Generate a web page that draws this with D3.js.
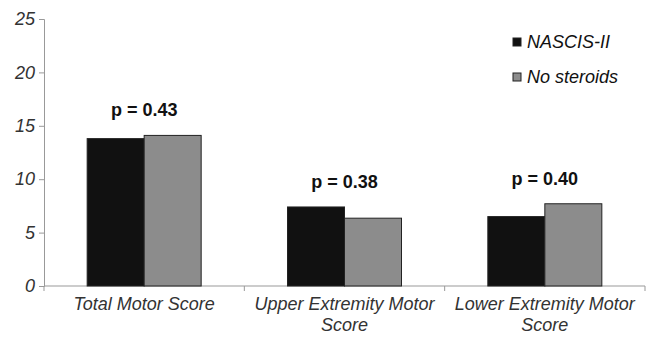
<!DOCTYPE html>
<html><head><meta charset="utf-8">
<script src="https://cdn.jsdelivr.net/npm/d3@7"></script>
<style>body{margin:0;background:#fff}svg{display:block;font-family:"Liberation Sans",Arial,sans-serif}</style>
</head><body><div id="c"></div>
<script>
const categories = [["Total Motor Score"],["Upper Extremity Motor","Score"],["Lower Extremity Motor","Score"]];
const seriesNames = ["NASCIS-II","No steroids"];
const nascis = [13.8, 7.4, 6.5];
const noSteroids = [14.1, 6.35, 7.7];
const pLabels = ["p = 0.43","p = 0.38","p = 0.40"];
const yTicks = [0,5,10,15,20,25];

const W=648,H=337;
const svg=d3.select("#c").append("svg").attr("width",W).attr("height",H);
const x=d3.scaleBand().domain(d3.range(categories.length)).range([44,645]).paddingInner(0).paddingOuter(0);
const y=d3.scaleLinear().domain([0,25]).range([286,19]);
const colors=["#111","#8c8c8c"];
const bw=57;

const ya=svg.append("g").attr("transform","translate(44,0)").call(d3.axisLeft(y).tickValues(yTicks).tickSize(5).tickPadding(4));
ya.select(".domain").attr("stroke","#999");
ya.selectAll(".tick line").attr("stroke","#999");
ya.selectAll(".tick text").attr("font-size",18).attr("font-style","italic").attr("fill","#333").attr("font-family","Liberation Sans, Arial");

svg.append("line").attr("x1",44).attr("x2",645).attr("y1",y(0)).attr("y2",y(0)).attr("stroke","#999");
[0,1,2,3].forEach(i=>{
  const xx=i<3?x(i):645;
  svg.append("line").attr("x1",xx).attr("x2",xx).attr("y1",y(0)).attr("y2",y(0)+5).attr("stroke","#999");
});

const data=[nascis,noSteroids];
data.forEach((vals,s)=>{
  svg.append("g").selectAll("rect").data(vals).join("rect")
    .attr("x",(d,i)=>x(i)+x.bandwidth()/2+(s-1)*bw)
    .attr("y",d=>y(d)).attr("width",bw).attr("height",d=>y(0)-y(d))
    .attr("fill",colors[s]).attr("stroke","#222").attr("stroke-width",1);
});

svg.append("g").selectAll("text").data(pLabels).join("text")
  .attr("x",(d,i)=>x(i)+x.bandwidth()/2)
  .attr("y",(d,i)=>y(Math.max(nascis[i],noSteroids[i]))-19)
  .attr("text-anchor","middle").attr("font-weight","bold").attr("font-size",18).attr("fill","#111").text(d=>d);

categories.forEach((lines,i)=>{
  const t=svg.append("text").attr("x",x(i)+x.bandwidth()/2).attr("y",310).attr("text-anchor","middle")
    .attr("font-size",18).attr("font-style","italic").attr("fill","#333");
  lines.forEach((l,j)=>t.append("tspan").attr("x",x(i)+x.bandwidth()/2).attr("dy",j?21:0).text(l));
});

const lg=svg.append("g");
seriesNames.forEach((n,i)=>{
  lg.append("rect").attr("x",513).attr("y",38+i*35).attr("width",8).attr("height",8).attr("fill",colors[i]).attr("stroke","#222");
  lg.append("text").attr("x",527).attr("y",48+i*35).attr("font-size",18).attr("font-style","italic").attr("fill","#111").text(n);
});
</script></body></html>
